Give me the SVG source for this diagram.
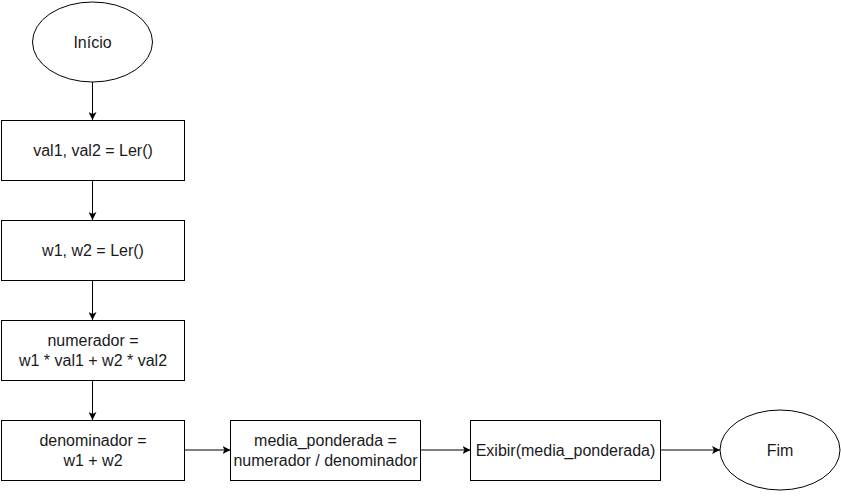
<svg xmlns="http://www.w3.org/2000/svg" width="841" height="496" viewBox="0 0 841 496">
<style>
.n{fill:#fff;stroke:#000;stroke-width:1}
.t{font-family:"Liberation Sans",Arial,sans-serif;font-size:16px;fill:#1a1a1a;text-anchor:middle}
.e{stroke:#000;stroke-width:1;fill:none}
</style>
<defs>
<marker id="a" viewBox="0 0 10 10" refX="10" refY="5" markerWidth="8" markerHeight="8" markerUnits="userSpaceOnUse" orient="auto">
<path d="M0,0 L10,5 L0,10 L2.5,5 Z" fill="#000"/>
</marker>
</defs>
<rect width="841" height="496" fill="#fff"/>
<g id="connectors">
<path class="e" d="M92.5,82 V120" marker-end="url(#a)"/>
<path class="e" d="M92.5,180 V220" marker-end="url(#a)"/>
<path class="e" d="M92.5,280 V320" marker-end="url(#a)"/>
<path class="e" d="M92.5,380 V420" marker-end="url(#a)"/>
<path class="e" d="M184.5,450 H230.5" marker-end="url(#a)"/>
<path class="e" d="M420.5,450 H470.5" marker-end="url(#a)"/>
<path class="e" d="M660.5,450 H720" marker-end="url(#a)"/>
</g>
<g id="inicio"><ellipse class="n" cx="92.5" cy="42" rx="60" ry="40"/><text class="t" x="92.5" y="47.5">Início</text></g>
<g id="ler1"><rect class="n" x="1.5" y="120.5" width="183" height="60"/><text class="t" x="93" y="156">val1, val2 = Ler()</text></g>
<g id="ler2"><rect class="n" x="1.5" y="220.5" width="183" height="60"/><text class="t" x="93" y="256">w1, w2 = Ler()</text></g>
<g id="numerador"><rect class="n" x="1.5" y="320.5" width="183" height="60"/><text class="t" x="93" y="346">numerador =</text><text class="t" x="93" y="365.5">w1 * val1 + w2 * val2</text></g>
<g id="denominador"><rect class="n" x="1.5" y="420.5" width="183" height="60"/><text class="t" x="93" y="446">denominador =</text><text class="t" x="93" y="465.5">w1 + w2</text></g>
<g id="media"><rect class="n" x="230.5" y="420.5" width="190" height="60"/><text class="t" x="325.5" y="446">media_ponderada =</text><text class="t" x="325.5" y="465.5">numerador / denominador</text></g>
<g id="exibir"><rect class="n" x="470.5" y="420.5" width="190" height="60"/><text class="t" x="565.5" y="456">Exibir(media_ponderada)</text></g>
<g id="fim"><ellipse class="n" cx="780" cy="450" rx="60" ry="40"/><text class="t" x="780" y="455.5">Fim</text></g>
</svg>
